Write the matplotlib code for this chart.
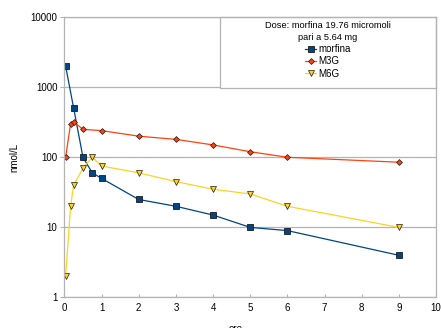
import matplotlib
matplotlib.use('Agg')
import matplotlib.pyplot as plt
from matplotlib.patches import Rectangle
from matplotlib.ticker import FixedLocator, FixedFormatter, NullLocator

plt.rcParams['font.family'] = ['Liberation Sans', 'DejaVu Sans']

# tempi di prelievo (ore) e concentrazioni (nmol/L)
ore = [0.033, 0.25, 0.5, 0.75, 1, 2, 3, 4, 5, 6, 9]
morfina = [2000, 500, 100, 60, 50, 25, 20, 15, 10, 9, 4]

ore_m3g = [0.033, 0.167, 0.25, 0.5, 1, 2, 3, 4, 5, 6, 9]
m3g = [100, 300, 320, 250, 240, 200, 180, 150, 120, 100, 85]

ore_m6g = [0.033, 0.167, 0.25, 0.5, 0.75, 1, 2, 3, 4, 5, 6, 9]
m6g = [2, 20, 40, 70, 100, 75, 60, 45, 35, 30, 20, 10]

y_ticks = [1, 10, 100, 1000, 10000]
y_labels = ['1', '10', '100', '1000', '10000']
x_ticks = list(range(0, 11))

titolo = 'Dose: morfina 19.76 micromoli\npari a 5.64 mg'

grigio = '#b3b3b3'

fig = plt.figure(figsize=(4.41, 3.28), dpi=100)
ax = fig.add_axes([0.146, 0.093, 0.8427, 0.855])

ax.plot(ore, morfina, color='#004586', lw=0.9, marker='s', ms=4.4,
        mfc='#004586', mec='#1a1a1a', mew=0.6, label='morfina', zorder=3)
ax.plot(ore_m3g, m3g, color='#ff420e', lw=0.9, marker='D', ms=3.0,
        mfc='#ff420e', mec='#1a1a1a', mew=0.5, label='M3G', zorder=3)
ax.plot(ore_m6g, m6g, color='#ffd320', lw=0.9, marker='v', ms=4.4,
        mfc='#ffd320', mec='#1a1a1a', mew=0.5, label='M6G', zorder=3)

ax.set_yscale('log')
ax.set_ylim(1, 10000)
ax.set_xlim(0, 10)
ax.yaxis.set_major_locator(FixedLocator(y_ticks))
ax.yaxis.set_major_formatter(FixedFormatter(y_labels))
ax.yaxis.set_minor_locator(NullLocator())
ax.set_xticks(x_ticks)

ax.grid(axis='y', color=grigio, lw=0.9)
ax.set_axisbelow(True)
for s in ax.spines.values():
    s.set_color(grigio)
    s.set_linewidth(0.9)
    s.set_zorder(6)

ax.tick_params(axis='y', direction='out', length=3, color=grigio,
               labelsize=7, pad=2)
ax.tick_params(axis='x', direction='in', length=2, color=grigio,
               labelsize=7, pad=4)

ax.set_ylabel('nmol/L', fontsize=7, labelpad=8)
# etichetta dell'asse x, tagliata dal bordo inferiore
fig.text(236 / 441, 0.012, 'ore', fontsize=7, ha='center', va='top')

# riquadro della legenda
ax.add_patch(Rectangle((0.4186, 0.747), 0.5814, 0.253, transform=ax.transAxes,
                       facecolor='white', edgecolor=grigio, lw=0.9,
                       zorder=4, clip_on=False))
leg = ax.legend(loc='upper center', bbox_to_anchor=(0.709, 1.012),
                title=titolo, fontsize=7, title_fontsize=6.7, frameon=False,
                handlelength=1.1, handletextpad=0.2, labelspacing=0.25,
                borderpad=0.3)
leg.get_title().set_multialignment('center')
leg.get_title().set_linespacing(1.3)
leg.set_zorder(5)

fig.savefig('out.png', dpi=100)
